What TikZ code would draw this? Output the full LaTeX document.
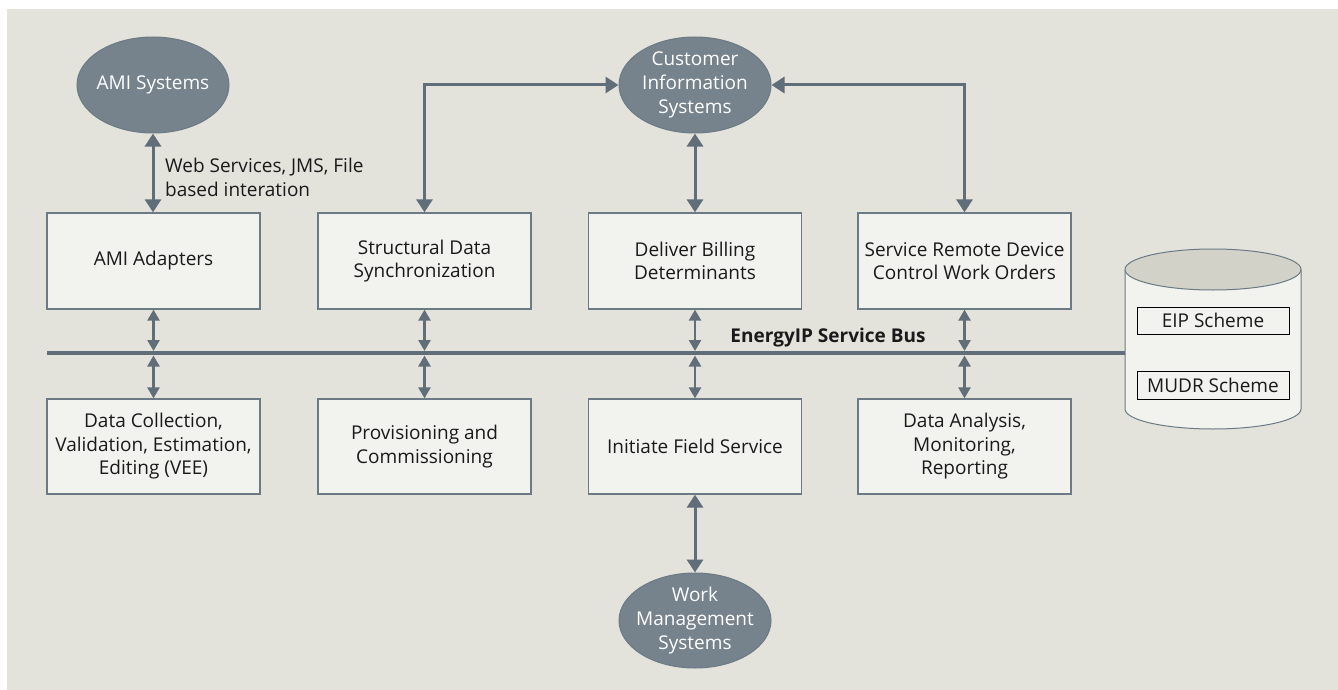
\documentclass[tikz,border=0pt]{standalone}
\usepackage{fontspec}
\setmainfont{Open Sans}
\usetikzlibrary{shapes.geometric,arrows.meta}
\definecolor{bg}{HTML}{E3E2DB}
\definecolor{boxfill}{HTML}{F2F2EE}
\definecolor{edge}{HTML}{6B7A84}
\definecolor{linec}{HTML}{5F6E78}
\definecolor{ellfill}{HTML}{76838C}
\definecolor{cyltop}{HTML}{D3D2C8}
\definecolor{txt}{HTML}{1A1A1A}
\tikzset{
  sysnode/.style={ellipse, fill=ellfill, draw=edge, line width=1pt, minimum width=152pt, minimum height=96pt, inner sep=0pt},
  systext/.style={inner sep=0pt, text=white, align=center, font=\fontsize{19}{24}\selectfont},
  procbox/.style={rectangle, fill=boxfill, draw=edge, line width=1.3pt, minimum width=213pt, minimum height=96pt, inner sep=0pt, text=txt, align=center, font=\fontsize{19}{23.5}\selectfont},
  schemebox/.style={rectangle, fill=boxfill, draw=black, line width=1pt, minimum width=152pt, minimum height=27pt, inner sep=0pt, text=txt, font=\fontsize{19}{22}\selectfont},
  bigarrow/.style={line width=3pt, draw=linec, {Triangle[width=16pt,length=13pt]}-{Triangle[width=16pt,length=13pt]}},
  busarrow/.style={line width=2.5pt, draw=linec, {Triangle[width=12pt,length=11pt]}-{Triangle[width=12pt,length=11pt]}},
  busline/.style={line width=4pt, draw=linec},
  lbl/.style={text=txt, align=left, font=\fontsize{19}{24}\selectfont, inner sep=0pt},
  buslbl/.style={text=txt, font=\fontsize{19}{22}\selectfont\bfseries, inner sep=0pt}
}
\begin{document}
\begin{tikzpicture}[x=1pt,y=-1pt]
\useasboundingbox (0,0) rectangle (1338,690);
\fill[bg] (7,9) rectangle (1338,690);

% external systems
\node[sysnode] (ami) at (153,85) {};
\node[systext] (amiT) at (ami.center) {AMI Systems};
\node[sysnode] (cis) at (695,85) {};
\node[systext] (cisT) at (cis.center) {Customer\\Information\\Systems};
\node[sysnode, minimum height=95pt] (wms) at (695,620.5) {};
\node[systext] (wmsT) at (wms.center) {Work\\Management\\Systems};

% top row
\node[procbox] (amiad) at (153.5,261) {AMI Adapters};
\node[procbox] (sds) at (424.5,261) {Structural Data\\Synchronization};
\node[procbox] (dbd) at (695,261) {Deliver Billing\\Determinants};
\node[procbox] (srd) at (964.5,261) {Service Remote Device\\Control Work Orders};

% bottom row
\node[procbox, minimum height=95pt] (dc) at (153.5,446.5) {Data Collection,\\Validation, Estimation,\\Editing (VEE)};
\node[procbox, minimum height=95pt] (prov) at (424.5,446.5) {Provisioning and\\Commissioning};
\node[procbox, minimum height=95pt] (ifs) at (695,446.5) {Initiate Field Service};
\node[procbox, minimum height=95pt] (dam) at (964.5,446.5) {Data Analysis,\\Monitoring,\\Reporting};

% database cylinder
\coordinate (cylL) at (1125,353);
\filldraw[fill=boxfill, draw=edge, line width=1pt]
  (1125,269.5) -- (1125,409) arc[start angle=180, end angle=0, x radius=88, y radius=20] -- (1301,269.5);
\filldraw[fill=cyltop, draw=edge, line width=1pt] (1213,269.5) ellipse[x radius=88, y radius=20.5];
\node[schemebox] (eip) at (1213,320.5) {EIP Scheme};
\node[schemebox, minimum height=28pt] (mudr) at (1213,385) {MUDR Scheme};

% service bus
\coordinate (busL) at (47,353);
\draw[busline] (busL) -- (cylL);
\node[buslbl] (buslabel) at (828,338) {EnergyIP Service Bus};

\foreach \n/\m/\x in {amiad/dc/153.5, sds/prov/424.5, dbd/ifs/695, srd/dam/964.5}{
  \coordinate (u\n) at (\x,351);
  \coordinate (d\n) at (\x,355.5);
  \draw[busarrow] (\n.south) -- (u\n);
  \draw[busarrow] (d\n) -- (\m.north);
}

% connectors to external systems
\draw[bigarrow] (ami.south) -- (ami.south |- amiad.north);
\node[lbl, anchor=west] (wslbl) at (165,177) {Web Services, JMS, File\\based interation};
\draw[bigarrow] (cis.south) -- (dbd.north);
\draw[bigarrow] (ifs.south) -- (wms.north);
\draw[bigarrow] (sds.north) |- (cis.west);
\draw[bigarrow] (srd.north) |- (cis.east);
\end{tikzpicture}
\end{document}
